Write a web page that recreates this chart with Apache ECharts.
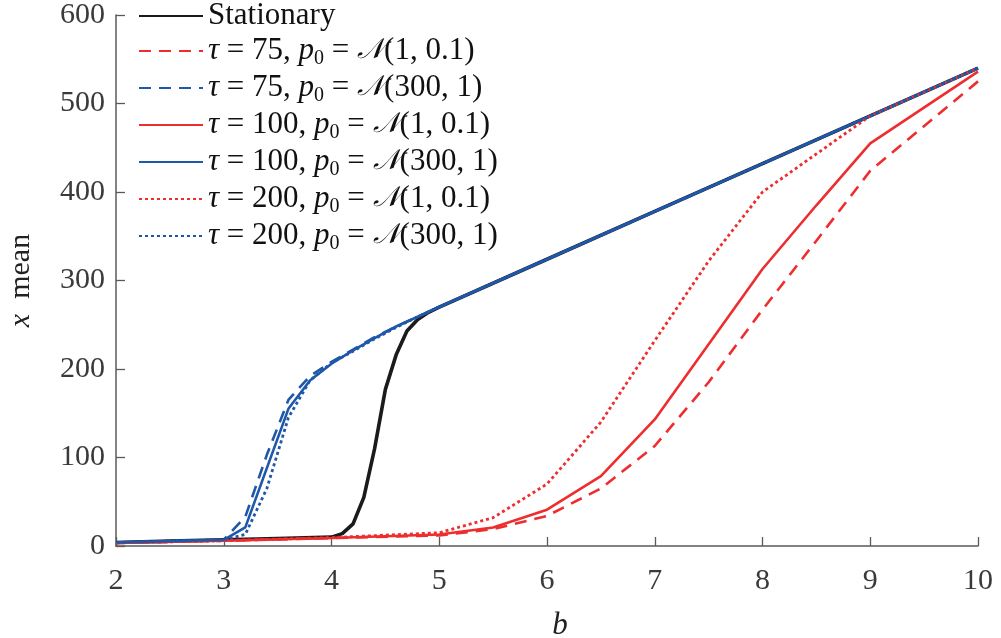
<!DOCTYPE html>
<html>
<head>
<meta charset="utf-8">
<script src="https://cdn.jsdelivr.net/npm/echarts@6/dist/echarts.min.js"></script>
<style>
html,body{margin:0;padding:0;background:#fff;}
#chart{width:1001px;height:638px;}
</style>
</head>
<body>
<div id="chart"></div>
<script>
// ---- data ----
const bStationary = [2, 2.5, 3, 3.5, 4, 4.1, 4.2, 4.3, 4.4, 4.5, 4.6, 4.7, 4.8, 4.9, 5, 6, 7, 8, 9, 10];
const meanStationary = [4, 5.5, 7, 8.5, 10, 14, 25, 55, 110, 177, 216, 243, 256, 264, 270, 324, 378, 432, 486, 540];

const bBlue = [2, 2.5, 3, 3.2, 3.4, 3.6, 3.8, 4.0, 4.2, 4.4, 4.6, 4.8, 5, 6, 7, 8, 9, 10];
const meanTau75High  = [4, 5.5, 7, 33, 103, 165, 192, 208, 222, 236, 248, 259, 270, 324, 378, 432, 486, 540];
const meanTau100High = [4, 5.5, 7, 21, 88, 155, 187, 206, 221, 235, 248, 259, 270, 324, 378, 432, 486, 540];
const meanTau200High = [4, 5.5, 7, 13, 65, 145, 187, 207, 220, 234, 247, 259, 270, 324, 378, 432, 486, 540];

const bRed = [2, 3, 4, 5, 5.5, 6, 6.5, 7, 7.5, 8, 8.5, 9, 10];
const meanTau75Low  = [3.5, 6, 9, 12, 19, 34, 65, 113, 185, 267, 345, 424, 525];
const meanTau100Low = [3.5, 6, 9, 13, 21, 41, 79, 143, 228, 313, 385, 455, 536];
const meanTau200Low = [3.5, 6, 9.5, 15, 32, 70, 140, 232, 322, 400, 443, 486, 540];

const seriesNames = [
  'Stationary',
  'τ = 75, p0 = N(1, 0.1)',
  'τ = 75, p0 = N(300, 1)',
  'τ = 100, p0 = N(1, 0.1)',
  'τ = 100, p0 = N(300, 1)',
  'τ = 200, p0 = N(1, 0.1)',
  'τ = 200, p0 = N(300, 1)'
];
const legendRich = [
  'Stationary',
  '{i|τ} = 75, {i|p}{s|0} = {n|𝒩}(1, 0.1)',
  '{i|τ} = 75, {i|p}{s|0} = {n|𝒩}(300, 1)',
  '{i|τ} = 100, {i|p}{s|0} = {n|𝒩}(1, 0.1)',
  '{i|τ} = 100, {i|p}{s|0} = {n|𝒩}(300, 1)',
  '{i|τ} = 200, {i|p}{s|0} = {n|𝒩}(1, 0.1)',
  '{i|τ} = 200, {i|p}{s|0} = {n|𝒩}(300, 1)'
];
const xTicks = [2, 3, 4, 5, 6, 7, 8, 9, 10];
const yTicks = [0, 100, 200, 300, 400, 500, 600];

// ---- styling ----
const RED = '#ee2d2e', BLUE = '#1f57a9', BLACK = '#1b1b1b';
const SERIF = 'Liberation Serif';
const zip = (xs, ys) => xs.map((x, i) => [x, ys[i]]);

function lineSeries(name, xs, ys, color, type, width, z) {
  return {
    name, type: 'line', data: zip(xs, ys), showSymbol: false, symbol: 'none',
    lineStyle: { color, width, type, cap: 'butt' },
    itemStyle: { color }, z, animation: false
  };
}

const chart = echarts.init(document.getElementById('chart'));
chart.setOption({
  animation: false,
  backgroundColor: '#fff',
  grid: { left: 116, right: 23, top: 15, bottom: 92, containLabel: false, outerBoundsMode: 'none' },
  xAxis: {
    type: 'value', min: xTicks[0], max: xTicks[xTicks.length - 1], interval: 1,
    name: 'b', nameLocation: 'middle', nameGap: 64,
    nameTextStyle: { fontFamily: SERIF, fontSize: 31, fontStyle: 'italic', color: '#222', padding: [0, 0, 0, 26] },
    axisLine: { show: true, onZero: false, lineStyle: { color: '#5a5a5a', width: 1.5 } },
    axisTick: { show: true, inside: true, length: 9, lineStyle: { color: '#5a5a5a', width: 1.3 } },
    axisLabel: { margin: 20, fontFamily: SERIF, fontSize: 30, color: '#3a3a3a' },
    splitLine: { show: false }
  },
  yAxis: {
    type: 'value', min: yTicks[0], max: yTicks[yTicks.length - 1], interval: 100,
    name: '{i|x}  mean', nameLocation: 'middle', nameGap: 80,
    nameTextStyle: { fontFamily: SERIF, fontSize: 30, color: '#222',
      rich: { i: { fontFamily: SERIF, fontSize: 30, fontStyle: 'italic', color: '#222' } } },
    axisLine: { show: true, onZero: false, lineStyle: { color: '#5a5a5a', width: 1.5 } },
    axisTick: { show: true, inside: true, length: 9, lineStyle: { color: '#5a5a5a', width: 1.3 } },
    axisLabel: { margin: 11, fontFamily: SERIF, fontSize: 30, color: '#3a3a3a' },
    splitLine: { show: false }
  },
  legend: {
    show: true, orient: 'vertical', left: 138, top: 0,
    itemWidth: 64, itemHeight: 14, itemGap: 1,
    padding: 0,
    data: seriesNames,
    formatter: (name) => legendRich[seriesNames.indexOf(name)],
    itemStyle: { opacity: 0, borderWidth: 0 },
    textStyle: {
      fontFamily: SERIF, fontSize: 31, color: '#111', lineHeight: 32,
      rich: {
        i: { fontFamily: SERIF, fontSize: 31, fontStyle: 'italic', lineHeight: 32, color: '#111' },
        s: { fontFamily: SERIF, fontSize: 20, lineHeight: 16, padding: [16, 0, 0, 0], color: '#111' },
        n: { fontFamily: 'DejaVu Serif', fontSize: 28, fontStyle: 'italic', lineHeight: 32, color: '#111' }
      }
    },
    selectedMode: false
  },
  series: [
    lineSeries(seriesNames[0], bStationary, meanStationary, BLACK, 'solid', 3.6, 2),
    lineSeries(seriesNames[1], bRed, meanTau75Low, RED, [12, 8], 2.6, 3),
    lineSeries(seriesNames[2], bBlue, meanTau75High, BLUE, [12, 8], 2.6, 4),
    lineSeries(seriesNames[3], bRed, meanTau100Low, RED, 'solid', 2.6, 5),
    lineSeries(seriesNames[4], bBlue, meanTau100High, BLUE, 'solid', 2.6, 6),
    lineSeries(seriesNames[5], bRed, meanTau200Low, RED, [3, 3], 2.8, 7),
    lineSeries(seriesNames[6], bBlue, meanTau200High, BLUE, [3, 3], 2.8, 8)
  ]
});
</script>
</body>
</html>
